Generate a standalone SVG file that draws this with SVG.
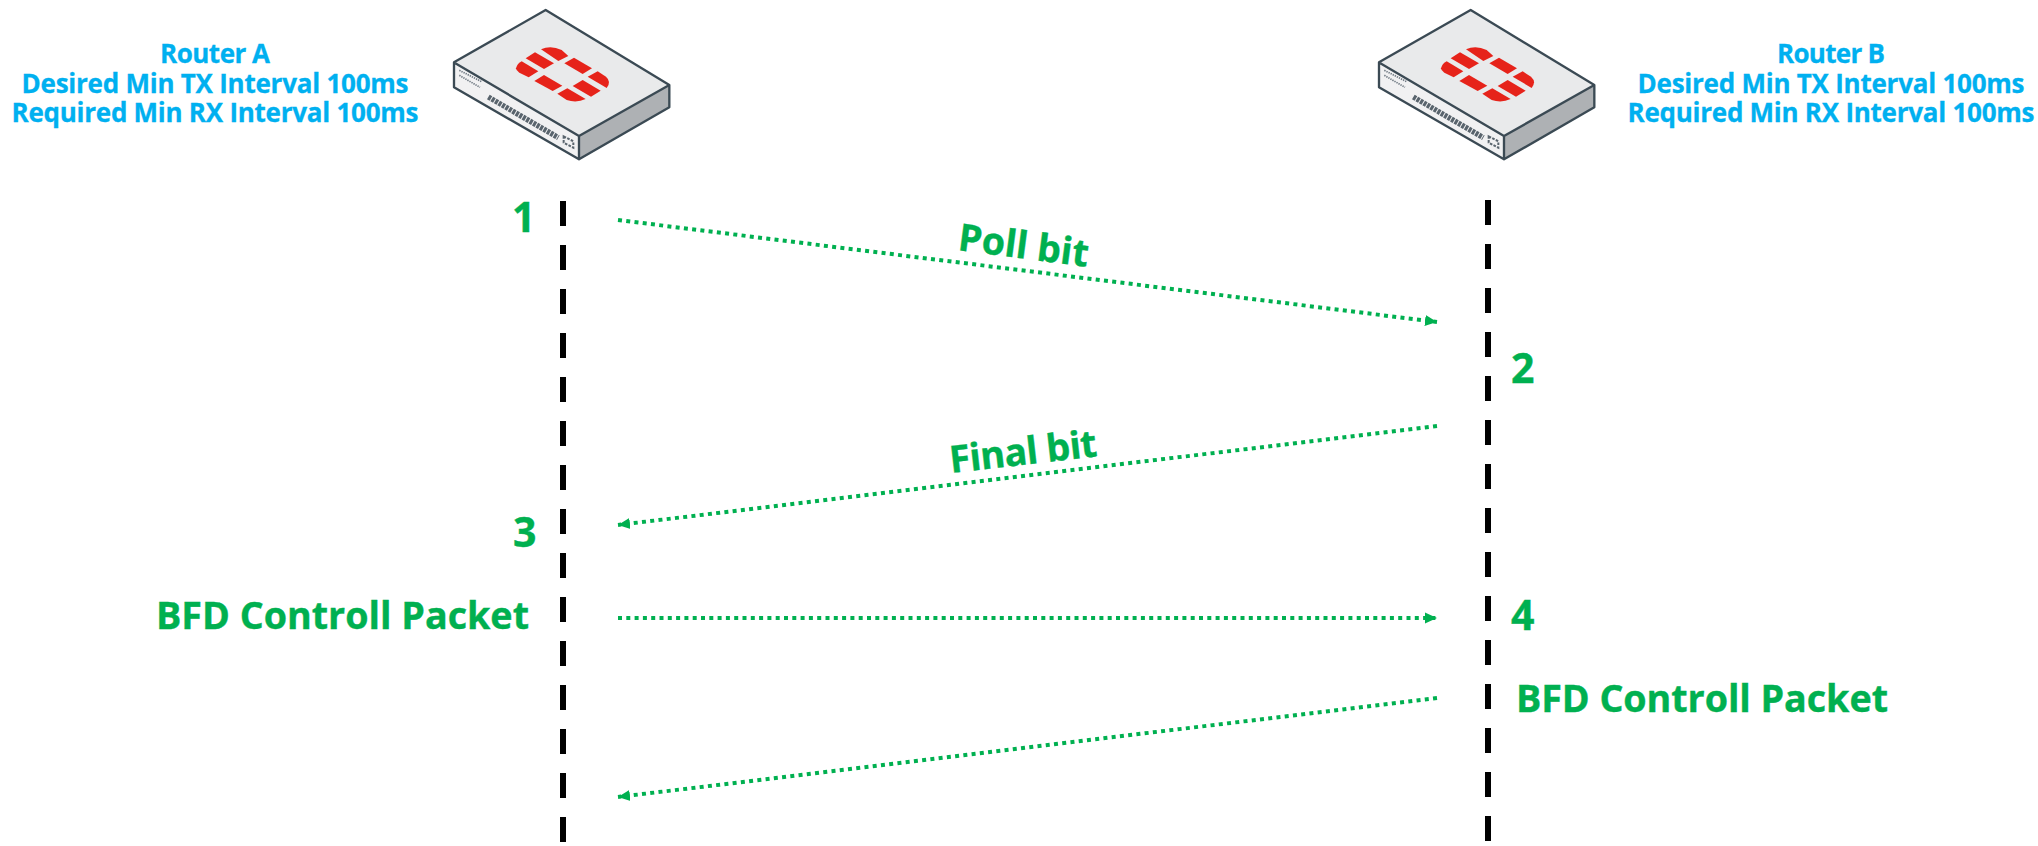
<svg xmlns="http://www.w3.org/2000/svg" width="2038" height="846" viewBox="0 0 2038 846">
<style>
.blue{font:700 26px "Open Sans","Noto Sans",sans-serif;fill:#00b0f0;text-anchor:middle;stroke:#00b0f0;stroke-width:.3}
.green{font:700 37.7px "Open Sans","Noto Sans",sans-serif;fill:#00b050;stroke:#00b050;stroke-width:.4}
.num{font-size:41px}
.life{stroke:#000;stroke-width:6;stroke-dasharray:25 19;fill:none}
.msg{stroke:#00b050;stroke-width:4;stroke-dasharray:4 4.3;fill:none;marker-end:url(#arr)}
.edge{fill:none;stroke:#3b4a54;stroke-width:7;stroke-linejoin:round}
</style>
<defs>
<marker id="arr" markerUnits="userSpaceOnUse" markerWidth="14" markerHeight="14" refX="12" refY="6" orient="auto"><path d="M0 .5L12 6L0 11.5z" fill="#00b050"/></marker>
<g id="dev">
<path d="M347 28L720 255L447 408L70 187Z" fill="#e9eaeb"/>
<path d="M70 187L447 408V480L70 262Z" fill="#f1f1f2"/>
<path d="M447 408L720 255V322L447 480Z" fill="#aeb1b4"/>
<path class="edge" d="M347 30L72 187V262L447 478L718 322V255ZM76 190L447 408V478M447 408L718 255"/>
<g fill="#e6231a">
<path d="M333 148Q362 134 395 150L415 168L385 183Z"/>
<path d="M287 175L315 157L372 190L342 207Z"/>
<path d="M403 190L432 173L486 205L458 222Z"/>
<path d="M473 230L503 214L528 230Q545 245 530 264Z"/>
<path d="M258 205Q262 190 275 184L325 214L296 232L268 218Q258 212 258 205Z"/>
<path d="M313 243L342 225L397 257L368 273Z"/>
<path d="M428 258L458 240L512 272L483 290Z"/>
<path d="M382 281L412 265L467 297Q440 310 410 300Z"/>
</g>
<path d="M175 291L385 413" fill="none" stroke="#59646d" stroke-width="16" stroke-dasharray="9 3"/>
<path d="M88 211L155 245M88 226L150 262" fill="none" stroke="#6d7780" stroke-width="5" stroke-dasharray="4 3"/>
<path d="M401 409L430 424V443L401 428Z" fill="none" stroke="#59646d" stroke-width="6" stroke-dasharray="8 4"/>
</g>
</defs>
<rect width="2038" height="846" fill="#fff"/>
<g id="router-a"><use href="#dev" transform="translate(430 0) scale(.33333)"/>
<text class="blue" x="215" y="63" textLength="110">Router A</text><text class="blue" x="215" y="93" textLength="387">Desired Min TX Interval 100ms</text><text class="blue" x="215" y="122" textLength="407">Required Min RX Interval 100ms</text></g>
<g id="router-b"><use href="#dev" transform="translate(1355 0) scale(.33333)"/>
<text class="blue" x="1831" y="63" textLength="108">Router B</text><text class="blue" x="1831" y="93" textLength="387">Desired Min TX Interval 100ms</text><text class="blue" x="1831" y="122" textLength="407">Required Min RX Interval 100ms</text></g>
<g id="connectors">
<path class="life" d="M563 201V846"/><path class="life" d="M1488 200V846"/>
<path class="msg" d="M618 220L1437 322"/><path class="msg" d="M1437 426L618 525"/><path class="msg" d="M618 618H1437"/><path class="msg" d="M1437 698L618 797"/>
</g>
<g id="labels">
<text class="green num" x="512" y="232">1</text><text class="green num" x="1511" y="383">2</text><text class="green num" x="513" y="547">3</text><text class="green num" x="1511" y="630">4</text>
<text class="green" x="156" y="629" textLength="373">BFD Controll Packet</text><text class="green" x="1516" y="712" textLength="372">BFD Controll Packet</text>
<text class="green" transform="translate(957 250) rotate(7.4)" textLength="131">Poll bit</text><text class="green" transform="translate(951 473) rotate(-6.5)" textLength="148">Final bit</text>
</g>
</svg>
